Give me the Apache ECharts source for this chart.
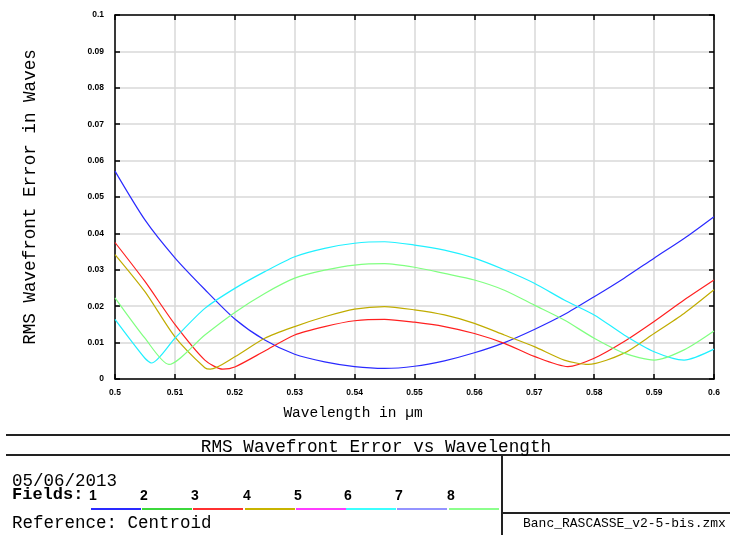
<!DOCTYPE html>
<html>
<head>
<meta charset="utf-8">
<script src="https://cdn.jsdelivr.net/npm/echarts@6/dist/echarts.min.js"></script>
<style>
html,body{margin:0;padding:0;background:#fff;}
#chart{width:730px;height:535px;}
</style>
</head>
<body>
<div id="chart"></div>
<script>
// ---- data ----
var xTicks = [0.5,0.51,0.52,0.53,0.54,0.55,0.56,0.57,0.58,0.59,0.6];
var yTicks = [0,0.01,0.02,0.03,0.04,0.05,0.06,0.07,0.08,0.09,0.1];

var field1X = [0.5,0.505,0.51,0.515,0.52,0.525,0.53,0.535,0.54,0.545,0.55,0.555,0.56,0.565,0.57,0.575,0.58,0.585,0.59,0.595,0.6];
var field1Y = [0.0571,0.0437,0.0333,0.0246,0.0165,0.0107,0.0068,0.0047,0.0034,0.0029,0.0035,0.0050,0.0072,0.0100,0.0136,0.0177,0.0226,0.0277,0.0332,0.0386,0.0446];

var field3X = [0.5,0.505,0.51,0.515,0.518,0.52,0.525,0.53,0.535,0.54,0.545,0.55,0.555,0.56,0.565,0.57,0.5756,0.58,0.585,0.59,0.595,0.6];
var field3Y = [0.0375,0.0268,0.0150,0.0052,0.0027,0.0033,0.0077,0.0121,0.0144,0.0160,0.0164,0.0156,0.0144,0.0125,0.0098,0.0062,0.0034,0.0057,0.0103,0.0158,0.0217,0.0272];

var field4X = [0.5,0.505,0.51,0.515,0.5159,0.52,0.525,0.53,0.535,0.54,0.545,0.55,0.555,0.56,0.565,0.57,0.575,0.579,0.585,0.59,0.595,0.6];
var field4Y = [0.0342,0.0240,0.0116,0.0031,0.0027,0.0061,0.0112,0.0144,0.0171,0.0192,0.0199,0.0190,0.0176,0.0153,0.0121,0.0089,0.0052,0.0040,0.0071,0.0125,0.0180,0.0245];

var field6X = [0.5,0.505,0.5061,0.51,0.515,0.52,0.525,0.53,0.535,0.54,0.545,0.55,0.555,0.56,0.565,0.57,0.575,0.58,0.585,0.59,0.595,0.6];
var field6Y = [0.0164,0.0057,0.0044,0.0112,0.0194,0.0249,0.0295,0.0336,0.0359,0.0373,0.0377,0.0368,0.0354,0.0332,0.0300,0.0263,0.0217,0.0176,0.0121,0.0075,0.0052,0.0082];

var field8X = [0.5,0.505,0.509,0.515,0.52,0.525,0.53,0.535,0.54,0.545,0.55,0.555,0.56,0.565,0.57,0.575,0.58,0.585,0.59,0.595,0.6];
var field8Y = [0.0223,0.0112,0.0040,0.0121,0.0183,0.0235,0.0277,0.0299,0.0313,0.0317,0.0307,0.0290,0.0272,0.0244,0.0203,0.0162,0.0112,0.0071,0.0052,0.0080,0.0132];

var legendLabels = ['1','2','3','4','5','6','7','8'];
var legendColors = ['#2a2aff','#3cd83c','#ff3030','#c8b400','#ff3cff','#3cffff','#9494ff','#8cff8c'];

// ---- build ----
function pairs(xs, ys){ return xs.map(function(x,i){ return [x, ys[i]]; }); }

var curves = [
  {x: field1X, y: field1Y, color: '#2a2aff'},
  {x: field3X, y: field3Y, color: '#ff2020'},
  {x: field4X, y: field4Y, color: '#c0ac00'},
  {x: field6X, y: field6Y, color: '#20f0ff'},
  {x: field8X, y: field8Y, color: '#80ff80'}
];

var MONO = '"Liberation Mono", "Courier New", monospace';
var tickLabel = {fontSize: 8.5, fontWeight: 'bold', color: '#000', fontFamily: '"Liberation Sans", Arial, sans-serif'};
function fmt(v){ return String(parseFloat(Number(v).toFixed(3))); }

var graphics = [];
// axis titles
graphics.push({type:'text', x: 353, y: 413, style:{text:'Wavelength in µm', font: '14.5px ' + MONO, fill:'#000', textAlign:'center', textVerticalAlign:'middle'}});
graphics.push({type:'text', x: 30, y: 197, rotation: Math.PI/2, style:{text:'RMS Wavefront Error in Waves', font: '17.6px ' + MONO, fill:'#000', textAlign:'center', textVerticalAlign:'middle'}});
// bottom panel lines
var lineStyle = {stroke:'#222', lineWidth: 2};
graphics.push({type:'line', shape:{x1:6, y1:435, x2:730, y2:435}, style: lineStyle});
graphics.push({type:'line', shape:{x1:6, y1:455, x2:730, y2:455}, style: lineStyle});
graphics.push({type:'line', shape:{x1:502, y1:455, x2:502, y2:535}, style: lineStyle});
graphics.push({type:'line', shape:{x1:502, y1:513, x2:730, y2:513}, style: lineStyle});
// panel texts
graphics.push({type:'text', x: 376, y: 447, style:{text:'RMS Wavefront Error vs Wavelength', font: '17.7px ' + MONO, fill:'#000', textAlign:'center', textVerticalAlign:'middle'}});
graphics.push({type:'text', x: 12, y: 481, style:{text:'05/06/2013', font: '17.5px ' + MONO, fill:'#000', textAlign:'left', textVerticalAlign:'middle'}});
graphics.push({type:'text', x: 12, y: 495, style:{text:'Fields:', font: 'bold 17px ' + MONO, fill:'#000', textAlign:'left', textVerticalAlign:'middle'}});
graphics.push({type:'text', x: 12, y: 523, style:{text:'Reference: Centroid', font: '17.5px ' + MONO, fill:'#000', textAlign:'left', textVerticalAlign:'middle'}});
graphics.push({type:'text', x: 523, y: 524, style:{text:'Banc_RASCASSE_v2-5-bis.zmx', font: '13px ' + MONO, fill:'#000', textAlign:'left', textVerticalAlign:'middle'}});
// legend
var segX = [91,142,193,245,296,346,397,449];
var segW = 50;
legendLabels.forEach(function(lab, i){
  graphics.push({type:'line', shape:{x1:segX[i], y1:509, x2:segX[i]+segW, y2:509}, style:{stroke: legendColors[i], lineWidth: 2}});
  graphics.push({type:'text', x: segX[i] - 2, y: 496, style:{text: lab, font: 'bold 14px "Liberation Sans Narrow", "Liberation Sans", sans-serif', fill:'#000', textAlign:'left', textVerticalAlign:'middle'}});
});

var option = {
  animation: false,
  backgroundColor: '#fff',
  grid: {left: 115, right: 16, top: 15, bottom: 156, containLabel: false},
  xAxis: [
    {type:'value', min: xTicks[0], max: xTicks[xTicks.length-1], interval: 0.01, position:'bottom',
     axisLine:{show:true, onZero:false, lineStyle:{color:'#000', width:1.5}},
     axisTick:{show:true, inside:true, length:5, lineStyle:{color:'#000', width:1.5}},
     axisLabel: Object.assign({margin: 9, formatter: fmt}, tickLabel),
     splitLine:{show:true, lineStyle:{color:'#d8d8d8', width:1.5}}},
    {type:'value', min: xTicks[0], max: xTicks[xTicks.length-1], interval: 0.01, position:'top',
     axisLine:{show:true, onZero:false, lineStyle:{color:'#000', width:1.5}},
     axisTick:{show:true, inside:true, length:5, lineStyle:{color:'#000', width:1.5}},
     axisLabel:{show:false}, splitLine:{show:false}}
  ],
  yAxis: [
    {type:'value', min: yTicks[0], max: yTicks[yTicks.length-1], interval: 0.01, position:'left',
     axisLine:{show:true, onZero:false, lineStyle:{color:'#000', width:1.5}},
     axisTick:{show:true, inside:true, length:5, lineStyle:{color:'#000', width:1.5}},
     axisLabel: Object.assign({margin: 11, formatter: fmt}, tickLabel),
     splitLine:{show:true, lineStyle:{color:'#d8d8d8', width:1.5}}},
    {type:'value', min: yTicks[0], max: yTicks[yTicks.length-1], interval: 0.01, position:'right',
     axisLine:{show:true, onZero:false, lineStyle:{color:'#000', width:1.5}},
     axisTick:{show:true, inside:true, length:5, lineStyle:{color:'#000', width:1.5}},
     axisLabel:{show:false}, splitLine:{show:false}}
  ],
  series: curves.map(function(c){
    return {type:'line', xAxisIndex:0, yAxisIndex:0, data: pairs(c.x, c.y), showSymbol:false, symbol:'none',
            smooth: 0.25, lineStyle:{color: c.color, width: 1.2}, silent: true};
  }),
  graphic: graphics
};

var chart = echarts.init(document.getElementById('chart'), null, {renderer:'canvas'});
chart.setOption(option);
</script>
</body>
</html>
